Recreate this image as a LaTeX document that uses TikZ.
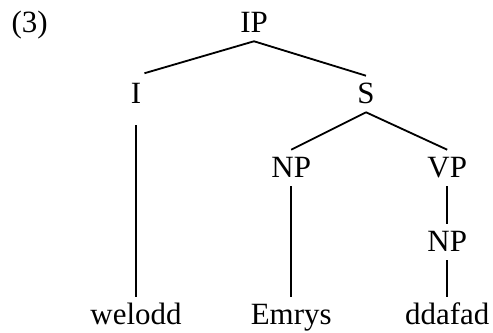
\documentclass[tikz,border=0pt]{standalone}
\usepackage{fontspec}
\setmainfont{Liberation Serif}

\begin{document}
\begin{tikzpicture}[cat/.style={anchor=base,inner xsep=0pt,inner ysep=0.2cm,
    text height=0.5cm,text depth=0pt,font=\fontsize{22}{26}\selectfont},
  br/.style={line width=1.3pt}]
  \useasboundingbox (0,0) rectangle (12.325,8.325);
  % Example number
  \node[cat] (ex) at (0.74,7.5) {(3)};
  % Categories, top to bottom
  \node[cat] (ip)  at (6.35,7.5)   {IP};
  \node[cat] (i)   at (3.4,5.725)  {I};
  \node[cat] (s)   at (9.15,5.725) {S};
  \node[cat] (np1) at (7.28,3.875) {NP};
  \node[cat] (vp)  at (11.18,3.875){VP};
  \node[cat] (np2) at (11.18,2.025){NP};
  % Words
  \node[cat] (welodd) at (3.4,0.2)   {welodd};
  \node[cat] (emrys)  at (7.28,0.2)  {Emrys};
  \node[cat] (ddafad) at (11.18,0.2) {ddafad};
  % Branches
  \draw[br,shorten >=0.22cm] (ip.south) -- (i.north);
  \draw[br] (ip.south) -- (s.north);
  \draw[br,shorten <=0.32cm] (i.south) -- (welodd.north);
  \draw[br] (s.south) -- (np1.north);
  \draw[br] (s.south) -- (vp.north);
  \draw[br] (np1.south) -- (emrys.north);
  \draw[br] (vp.south) -- (np2.north);
  \draw[br] (np2.south) -- (ddafad.north);
\end{tikzpicture}
\end{document}
